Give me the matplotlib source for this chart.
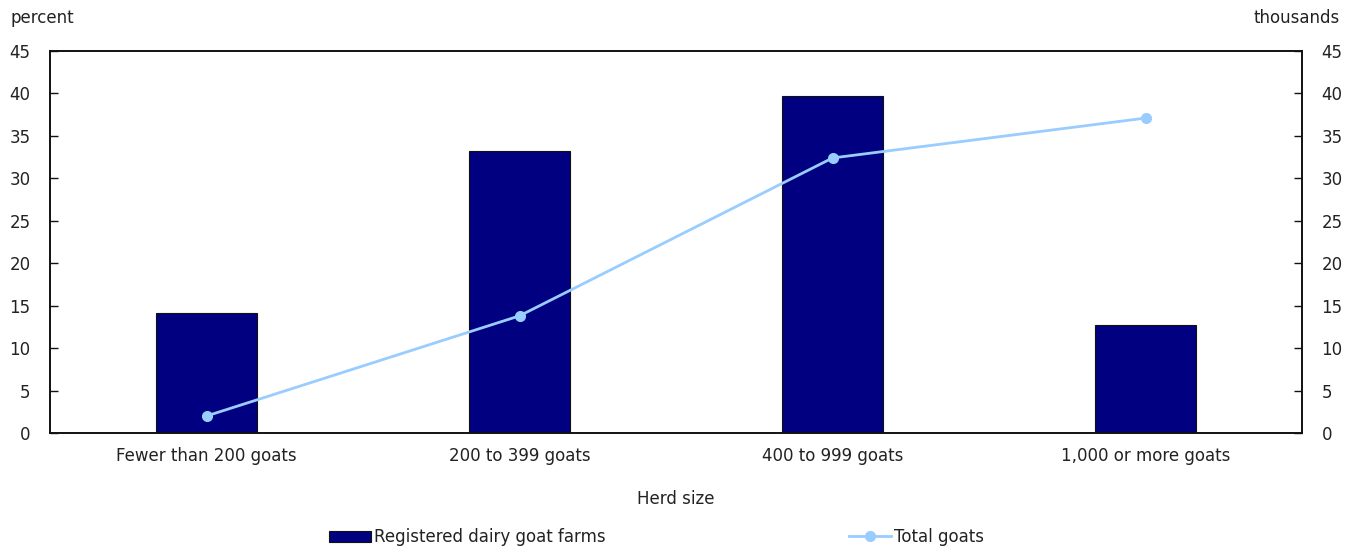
import matplotlib as mpl
import matplotlib.pyplot as plt
from matplotlib import font_manager as fm

# condensed font if available
names = {f.name for f in fm.fontManager.ttflist}
FAMILY = "Liberation Sans Narrow" if "Liberation Sans Narrow" in names else "DejaVu Sans"
mpl.rcParams["font.family"] = [FAMILY, "DejaVu Sans"]
mpl.rcParams["font.size"] = 12
TEXT = "#222222"

categories = ["Fewer than 200 goats", "200 to 399 goats", "400 to 999 goats", "1,000 or more goats"]
farms_pct = [14.1, 33.2, 39.7, 12.7]
goats_thousands = [2.0, 13.8, 32.4, 37.1]
yticks = [0, 5, 10, 15, 20, 25, 30, 35, 40, 45]

fig = plt.figure(figsize=(13.59, 5.51), dpi=100)
ax = fig.add_axes([0.0368, 0.2142, 0.9213, 0.6932])
ax2 = ax.twinx()

x = range(len(categories))
ax.bar(x, farms_pct, width=0.32, color="#000080", edgecolor="#111111", linewidth=0.8,
       label="Registered dairy goat farms", zorder=2)
ax2.plot(x, goats_thousands, color="#99CCFF", linewidth=2, marker="o", markersize=7,
         label="Total goats", zorder=3)

for a in (ax, ax2):
    a.set_ylim(0, 45)
    a.set_yticks(yticks)
    a.set_xlim(-0.5, 3.5)
    a.tick_params(axis="y", direction="in", length=6, width=1, colors="#111111",
                  labelcolor=TEXT, labelsize=12, pad=14)
    for s in a.spines.values():
        s.set_color("#111111")
        s.set_linewidth(1.2)

ax.set_xticks(list(x))
ax.set_xticklabels(categories, color=TEXT, fontsize=12)
ax.tick_params(axis="x", length=0, pad=10)
ax.set_xlabel("Herd size", color=TEXT, fontsize=12, labelpad=18)

fig.text(0.0074, 0.967, "percent", color=TEXT, fontsize=12, ha="left", va="center")
fig.text(0.986, 0.967, "thousands", color=TEXT, fontsize=12, ha="right", va="center")

h1, l1 = ax.get_legend_handles_labels()
h2, l2 = ax2.get_legend_handles_labels()
fig.legend(h1 + h2, l1 + l2, loc="center", bbox_to_anchor=(0.483, 0.025), ncol=2,
           frameon=False, handlelength=2.5, handletextpad=0.2, columnspacing=14.6,
           fontsize=12, labelcolor=TEXT)

fig.savefig("out.png", dpi=100)
